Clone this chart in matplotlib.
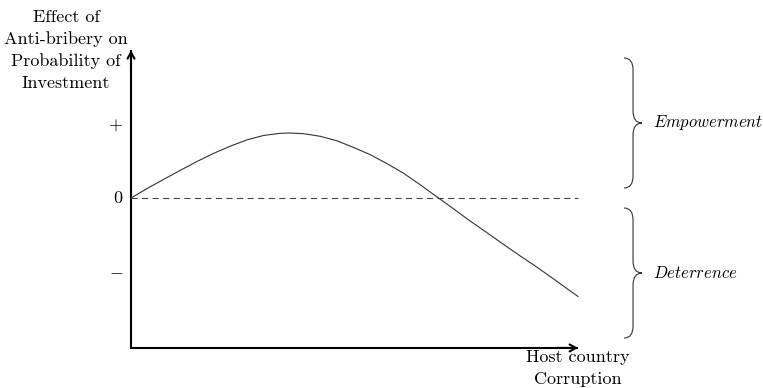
"""Sketch of the anti-bribery effect on investment vs host country corruption."""

import matplotlib

matplotlib.use("Agg")
from matplotlib import pyplot as plt
from matplotlib.path import Path
from matplotlib.patches import PathPatch

plt.rcParams["mathtext.fontset"] = "cm"

# curve (x: corruption, y: effect)
corruption = [0, 0.35, 0.72, 1.10, 1.47, 1.84, 2.22, 2.59, 2.96, 3.33,
              3.56, 3.86, 4.23, 4.60, 4.97, 5.35, 5.72, 6.09, 6.47, 6.88,
              7.21, 7.58, 7.96, 8.33, 8.70, 9.08, 9.45, 10.0]
effect = [0, 0.125, 0.25, 0.375, 0.495, 0.605, 0.705, 0.79, 0.85, 0.88,
          0.884, 0.875, 0.84, 0.78, 0.69, 0.59, 0.47, 0.34, 0.18, 0,
          -0.145, -0.31, -0.47, -0.63, -0.785, -0.94, -1.10, -1.34]
tick_values = [1, 0, -1]
tick_labels = [r"$+$", r"$0$", r"$-$"]
brace_spans = [(0.136, 1.905), (-1.905, -0.136)]
brace_labels = [r"$Empowerment$", r"$Deterrence$"]

# pixel scale of the data units (figure of 763x388)
SX, SY = 44.7, 73.5
X_MIN, X_MAX = -131 / SX, 632 / SX
Y_MIN, Y_MAX = -190 / SY, 198 / SY
Y_BOTTOM, Y_TOP = -2.04, 2.01
X_END = 10.0

fig = plt.figure(figsize=(7.63, 3.88), dpi=100)
ax = fig.add_axes([0, 0, 1, 1])
ax.set_xlim(X_MIN, X_MAX)
ax.set_ylim(Y_MIN, Y_MAX)
ax.axis("off")

# axes with arrows
ax.plot([0, 0, X_END], [Y_TOP, Y_BOTTOM, Y_BOTTOM], color="black", lw=1.5,
        solid_joinstyle="miter", solid_capstyle="butt")
arrow = dict(arrowstyle="->,head_length=0.45,head_width=0.25", lw=1.5,
             color="black", shrinkA=0, shrinkB=0)
ax.annotate("", xy=(0, Y_TOP), xytext=(0, Y_TOP - 0.3), arrowprops=arrow)
ax.annotate("", xy=(X_END, Y_BOTTOM), xytext=(X_END - 0.5, Y_BOTTOM),
            arrowprops=arrow)

# zero line and curve
ax.plot([0, X_END], [0, 0], color="#444444", lw=0.8, dashes=(5.5, 4))
ax.plot(corruption, effect, color="#333333", lw=0.8)

# tick labels
for val, lab in zip(tick_values, tick_labels):
    ax.text(-0.17, val, lab, ha="right", va="center", fontsize=13)

# axis labels
ax.text(-65 / SX, 148 / SY, "Effect of\nAnti-bribery on\nProbability of\nInvestment",
        ha="center", va="center", multialignment="center", fontsize=13,
        family="cmr10", linespacing=1.5)
ax.text(X_END, Y_BOTTOM - 0.03, "Host country\nCorruption", ha="center",
        va="top", multialignment="center", fontsize=13, family="cmr10",
        linespacing=1.5)

# braces
x_end = 11.03
x_mid = x_end + 9 / SX
x_tip = x_end + 18 / SX
r = 12 / SY
for (lo, hi), lab in zip(brace_spans, brace_labels):
    mid = (lo + hi) / 2
    verts = [
        (x_end, hi), (x_mid, hi), (x_mid, hi - r),
        (x_mid, mid + r),
        (x_mid, mid), (x_tip, mid),
        (x_mid, mid), (x_mid, mid - r),
        (x_mid, lo + r),
        (x_mid, lo), (x_end, lo),
    ]
    codes = [Path.MOVETO, Path.CURVE3, Path.CURVE3, Path.LINETO,
             Path.CURVE3, Path.CURVE3, Path.CURVE3, Path.CURVE3,
             Path.LINETO, Path.CURVE3, Path.CURVE3]
    ax.add_patch(PathPatch(Path(verts, codes), fill=False, lw=0.8,
                           edgecolor="#333333"))
    ax.text(x_tip + 11 / SX, mid, lab, ha="left", va="center", fontsize=12)

fig.savefig("out.png", dpi=100)
